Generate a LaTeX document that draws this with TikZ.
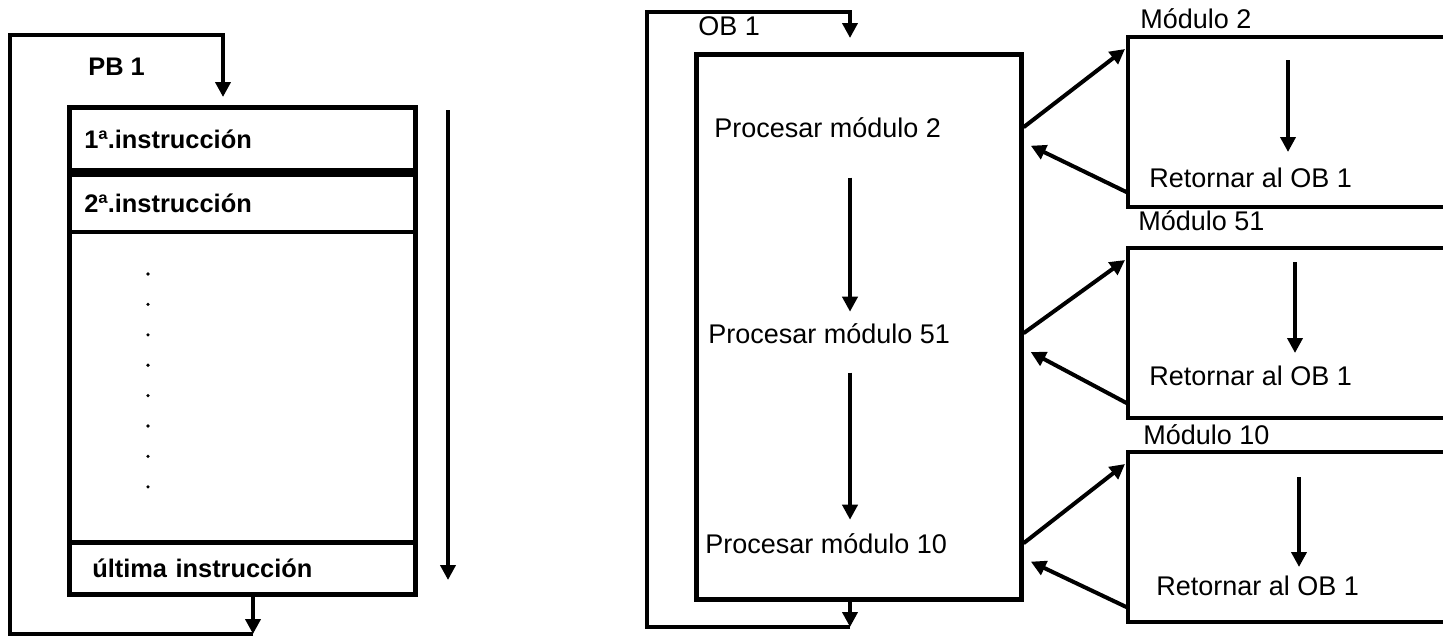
\documentclass[tikz,border=0pt]{standalone}
\usepackage{fontspec}
\setmainfont{Liberation Sans}
\usetikzlibrary{arrows.meta,positioning,calc}

\begin{document}
\begin{tikzpicture}[x=0.5pt, y=-0.5pt, >={Triangle[length=7.5pt,width=7.5pt]},
  flow/.style={line width=2pt},
  boxline/.style={line width=2.3pt},
  box/.style={draw, boxline, rectangle, inner sep=0pt},
  boldtxt/.style={font=\fontsize{12.7}{15}\selectfont\bfseries, inner sep=0pt},
  plaintxt/.style={font=\fontsize{13.5}{16}\selectfont, inner sep=0pt},
  rowbox/.style={box, boldtxt, anchor=north west, minimum width=173pt,
    inner xsep=7.5pt, text width=158pt, align=left},
  modbox/.style={rectangle, anchor=north west, minimum width=157.5pt,
    minimum height=84.5pt, inner sep=0pt}]

  \useasboundingbox[fill=white] (0,0) rectangle (1443,639);

  % PB 1: block of instructions
  \node[box, anchor=north west, minimum width=173pt, minimum height=243.5pt] (pb) at (67,105) {};
  \node[rowbox, minimum height=31.5pt] (r1) at (67,105) {1ª.instrucción};
  \node[rowbox, minimum height=28.5pt] (r2) at (r1.south west) {2ª.instrucción};
  \node[rowbox, anchor=south west, minimum height=26pt, inner xsep=11.5pt,
    text width=150pt] (rn) at (pb.south west) {última instrucción};
  \node[boldtxt, anchor=base west] (pbl) at (88,75) {PB 1};

  % dots
  \foreach \k in {0,...,7}
    \fill (148,{274+30.4*\k}) circle (0.9pt);

  % PB 1 cycle
  \coordinate (pbtl) at (10,35);
  \coordinate (pbin) at (223,35);
  \coordinate (pbout) at (253,634);
  \draw[flow,->] (rn.south -| pbout) -- (pbout);
  \draw[flow,->,shorten >=4pt] (pbout) -| (pbtl) -| (r1.north -| pbin);

  % scan direction
  \coordinate (scantop) at (448,110);
  \coordinate (scanbot) at (448,580);
  \draw[flow,->] (scantop) -- (scanbot);

  % OB 1
  \node[box, anchor=north west, minimum width=162.5pt, minimum height=272.5pt] (ob) at (694,52) {};
  \node[plaintxt, anchor=base west] (obl) at (698,35) {OB 1};
  \node[plaintxt, anchor=base west] (p2) at (714,137) {Procesar módulo 2};
  \node[plaintxt, anchor=base west] (p51) at (708,343) {Procesar módulo 51};
  \node[plaintxt, anchor=base west] (p10) at (705,553) {Procesar módulo 10};
  \coordinate (obmid) at (850,0);
  \draw[flow,->,shorten <=20pt,shorten >=5.5pt] (p2.south -| obmid) -- (p51.north -| obmid);
  \draw[flow,->,shorten <=14.5pt,shorten >=6.5pt] (p51.south -| obmid) -- (p10.north -| obmid);

  % OB 1 cycle
  \coordinate (obtl) at (647,12);
  \coordinate (obout) at (850,627);
  \draw[flow,->] (ob.south -| obout) -- (obout);
  \draw[flow,->,shorten >=7pt] (obout) -| (obtl) -| (ob.north -| obout);

  % called modules
  \foreach \m/\ty/\lx/\lb/\ax/\ya/\yb/\rx/\rb in
    {2/37/1140/28/1288/60/152/1149/187,
     51/248/1138/230/1295/262/353/1149/385,
     10/452/1143/444/1299/477/567/1156/595} {
    \node[modbox] (m\m) at (1128,\ty) {};
    \draw[boxline] (m\m.north east) -- (m\m.north west) -- (m\m.south west) -- (m\m.south east);
    \node[plaintxt, anchor=base west] (ml\m) at (\lx,\lb) {Módulo \m};
    \node[plaintxt, anchor=base west] (ret\m) at (\rx,\rb) {Retornar al OB 1};
    \draw[flow,->] (\ax,\ya) -- (\ax,\yb);
    \draw[flow,->] (ob.east |- p\m) -- ($(m\m.north west)+(-3,12)$);
    \draw[flow,->,shorten >=4pt] ($(m\m.south west)+(0,-14)$) -- ($(ob.east |- p\m)+(0,15)$);
  }
\end{tikzpicture}
\end{document}
